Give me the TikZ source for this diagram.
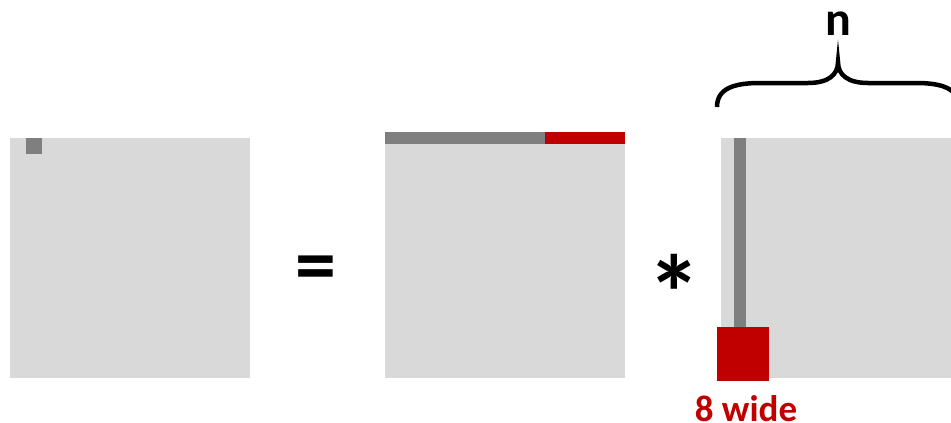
\documentclass[tikz,border=0pt]{standalone}
\usepackage{fontspec}
\setmainfont{Carlito}
\definecolor{lgray}{HTML}{D9D9D9}
\definecolor{dgray}{HTML}{7F7F7F}
\definecolor{dred}{HTML}{C00000}
\begin{document}
\begin{tikzpicture}[x=1pt,y=-1pt,
  lbl/.style={inner sep=0pt,font=\bfseries}]
\useasboundingbox (0,0) rectangle (951,423);
\clip (0,0) rectangle (951,423);
% left matrix
\fill[lgray] (10,138) rectangle (250,378);
\fill[dgray] (26,138) rectangle (42,154);
% equals
\node[lbl,font=\bfseries\fontsize{82}{82}\selectfont] (eq) at (316,274) {=};
% middle matrix
\fill[lgray] (385,138) rectangle (625,378);
\fill[dgray] (385,132) rectangle (545,144);
\fill[dred] (545,132) rectangle (625,144);
% times
\node[lbl,font=\bfseries\fontsize{108}{108}\selectfont] (ast) at (674,293) {*};
% right matrix
\fill[lgray] (721,138) rectangle (961,378);
\fill[dgray] (734,138) rectangle (746,327);
\fill[dred] (717,327) rectangle (769,381);
\node[lbl,text=dred,font=\bfseries\fontsize{37}{37}\selectfont,anchor=base] (w) at (746,421) {8 wide};
% brace
\draw[line width=4.5pt] (717,107) .. controls (717,88) and (735,83) .. (760,83) -- (808,83)
  .. controls (828,83) and (838,75) .. (838,62)
  .. controls (838,75) and (848,83) .. (868,83) -- (916,83)
  .. controls (941,83) and (959,88) .. (959,107);
\node[lbl,font=\bfseries\fontsize{48}{48}\selectfont,anchor=base] (n) at (838,35) {n};
\end{tikzpicture}
\end{document}
